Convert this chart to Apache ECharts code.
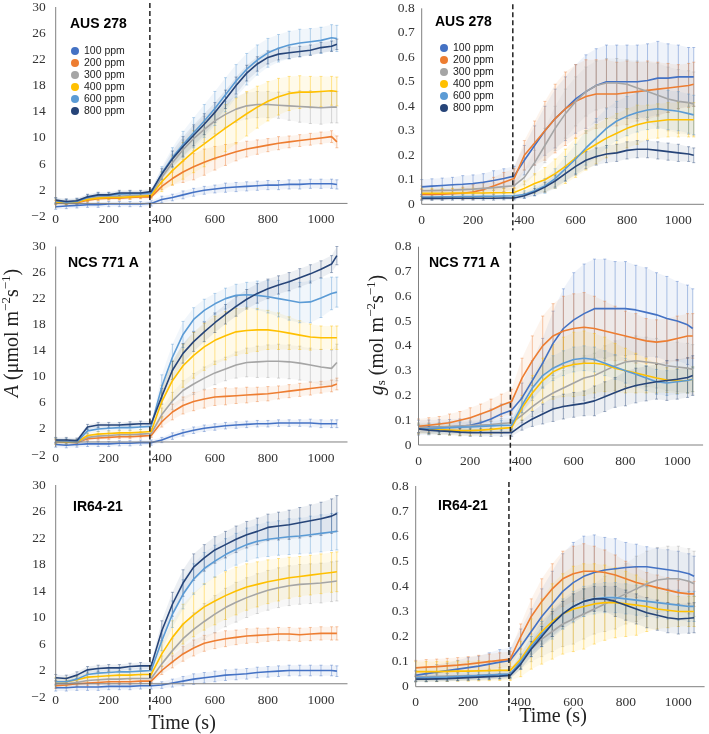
<!DOCTYPE html>
<html><head><meta charset="utf-8">
<script src="https://cdn.jsdelivr.net/npm/echarts/dist/echarts.min.js"></script>
<style>html,body{margin:0;padding:0;background:#fff}#c{width:709px;height:734px}</style>
</head><body><div id="c"></div><script>
// ---------- data ----------
const times = [0,40,80,120,160,200,240,280,320,360,400,440,480,520,560,600,640,680,720,760,800,840,880,920,960,1000,1040,1060];
const ppmNames = ['100 ppm','200 ppm','300 ppm','400 ppm','600 ppm','800 ppm'];
const panelTitles = ['AUS 278','NCS 771 A','IR64-21'];
const xTicks = [0,200,400,600,800,1000];
const xMax = 1100;
const yTicksA = [-2,2,6,10,14,18,22,26,30];
const yTicksG = [0,0.1,0.2,0.3,0.4,0.5,0.6,0.7,0.8];
const lightStep = 355;

// AUS 278 - A
const ausA100 = [-0.5,-0.4,-0.3,-0.2,-0.2,-0.1,-0.1,-0.1,-0.1,0.0, 0.6,0.9,1.3,1.7,2.0,2.2,2.4,2.5,2.6,2.7,2.8,2.8,2.9,2.9,3.0,3.0,3.0,2.9];
const ausA200 = [0.1,0.0,0.1,0.5,0.7,0.8,0.8,0.9,1.0,1.0, 2.6,3.8,4.8,5.6,6.3,6.9,7.4,7.9,8.3,8.6,8.9,9.2,9.4,9.6,9.8,10.0,10.2,9.4];
const ausA300 = [0.3,0.1,0.2,0.7,1.0,1.0,1.1,1.2,1.2,1.3, 4.0,6.2,8.2,9.9,11.3,12.6,13.6,14.4,14.9,15.1,15.1,15.0,14.9,14.8,14.7,14.6,14.7,14.7];
const ausA400 = [0.2,0.0,0.2,0.6,0.8,0.9,0.9,1.0,1.1,1.2, 3.3,5.0,6.5,7.9,9.1,10.3,11.5,12.6,13.7,14.7,15.6,16.3,16.8,17.0,17.0,17.1,17.2,17.1];
const ausA600 = [0.4,0.2,0.3,0.9,1.2,1.2,1.4,1.5,1.5,1.6, 4.6,7.0,9.0,10.8,12.6,14.5,16.6,18.7,20.5,21.9,23.0,23.7,24.2,24.5,24.7,24.9,25.3,25.2];
const ausA800 = [0.5,0.3,0.4,1.0,1.3,1.3,1.6,1.6,1.6,1.8, 4.5,6.8,8.7,10.4,12.1,13.9,15.9,18.0,19.9,21.3,22.3,22.8,23.0,23.2,23.4,23.8,24.0,24.3];
const ausA100e = [0.4,0.4,0.4,0.4,0.4,0.4,0.4,0.4,0.4,0.4, 0.5,0.5,0.6,0.6,0.6,0.6,0.7,0.7,0.7,0.7,0.7,0.7,0.7,0.7,0.7,0.7,0.7,0.7];
const ausA200e = [0.3,0.3,0.3,0.3,0.3,0.3,0.3,0.3,0.3,0.3, 0.5,1.0,1.6,2.0,2.0,1.8,1.6,1.4,1.2,1.1,1.0,1.0,0.9,0.9,0.9,0.9,0.9,0.9];
const ausA300e = [0.4,0.4,0.4,0.4,0.4,0.4,0.4,0.4,0.4,0.4, 0.8,1.2,1.5,1.8,2.0,2.0,2.0,2.0,2.0,2.0,2.0,2.0,2.2,2.4,2.5,2.5,2.4,2.4];
const ausA400e = [0.3,0.3,0.3,0.3,0.3,0.3,0.3,0.3,0.3,0.3, 1.5,2.2,2.8,3.2,3.5,3.6,3.6,3.5,3.4,3.2,3.0,2.8,2.6,2.5,2.4,2.3,2.2,2.2];
const ausA600e = [0.4,0.4,0.4,0.4,0.4,0.4,0.4,0.4,0.4,0.4, 1.0,1.5,2.0,2.3,2.5,2.6,2.6,2.5,2.4,2.3,2.2,2.1,2.1,2.1,2.0,2.0,2.0,2.0];
const ausA800e = [0.4,0.4,0.4,0.4,0.4,0.4,0.4,0.4,0.4,0.4, 0.8,1.2,1.5,1.6,1.6,1.5,1.4,1.3,1.2,1.1,1.0,0.9,0.9,0.8,0.8,0.8,0.8,0.8];

// AUS 278 - gs
const ausG100 = [0.071,0.074,0.077,0.080,0.082,0.085,0.090,0.097,0.105,0.115, 0.18,0.24,0.30,0.35,0.39,0.43,0.46,0.485,0.50,0.50,0.50,0.50,0.505,0.515,0.515,0.52,0.52,0.52];
const ausG200 = [0.040,0.040,0.041,0.043,0.045,0.050,0.060,0.075,0.090,0.105, 0.20,0.25,0.30,0.35,0.39,0.42,0.44,0.45,0.45,0.45,0.455,0.46,0.465,0.47,0.475,0.48,0.485,0.49];
const ausG300 = [0.055,0.056,0.057,0.058,0.060,0.062,0.065,0.068,0.072,0.076, 0.11,0.17,0.24,0.31,0.37,0.42,0.46,0.485,0.495,0.495,0.49,0.475,0.46,0.445,0.43,0.42,0.415,0.41];
const ausG400 = [0.045,0.045,0.045,0.046,0.046,0.046,0.046,0.047,0.047,0.048, 0.065,0.085,0.10,0.125,0.155,0.19,0.22,0.245,0.27,0.29,0.31,0.325,0.335,0.34,0.345,0.345,0.345,0.345];
const ausG600 = [0.030,0.030,0.031,0.031,0.032,0.032,0.033,0.033,0.034,0.035, 0.04,0.055,0.075,0.105,0.145,0.185,0.23,0.27,0.31,0.34,0.36,0.375,0.385,0.39,0.385,0.38,0.37,0.365];
const ausG800 = [0.024,0.024,0.024,0.025,0.025,0.025,0.025,0.025,0.026,0.026, 0.035,0.05,0.07,0.095,0.125,0.155,0.18,0.195,0.205,0.21,0.22,0.225,0.225,0.22,0.215,0.21,0.205,0.20];
const ausG100e = [0.03,0.03,0.03,0.03,0.035,0.035,0.035,0.04,0.04,0.04, 0.06,0.08,0.10,0.12,0.13,0.14,0.15,0.15,0.15,0.15,0.15,0.15,0.15,0.15,0.14,0.13,0.12,0.12];
const ausG200e = [0.02,0.02,0.02,0.02,0.025,0.03,0.03,0.035,0.04,0.04, 0.06,0.09,0.12,0.14,0.15,0.15,0.15,0.14,0.14,0.13,0.13,0.12,0.12,0.11,0.10,0.09,0.09,0.09];
const ausG300e = [0.02,0.02,0.02,0.02,0.02,0.02,0.02,0.02,0.02,0.02, 0.03,0.05,0.07,0.09,0.10,0.10,0.10,0.10,0.10,0.10,0.10,0.11,0.12,0.13,0.13,0.13,0.13,0.13];
const ausG400e = [0.02,0.02,0.02,0.02,0.02,0.02,0.02,0.02,0.02,0.02, 0.03,0.04,0.05,0.06,0.07,0.08,0.08,0.08,0.08,0.08,0.08,0.08,0.07,0.07,0.07,0.07,0.07,0.07];
const ausG600e = [0.01,0.01,0.01,0.01,0.01,0.01,0.01,0.01,0.01,0.01, 0.015,0.02,0.03,0.04,0.05,0.06,0.07,0.08,0.08,0.08,0.08,0.08,0.08,0.08,0.08,0.08,0.08,0.08];
const ausG800e = [0.008,0.008,0.008,0.008,0.008,0.008,0.008,0.008,0.008,0.008, 0.01,0.015,0.02,0.025,0.03,0.035,0.035,0.035,0.035,0.035,0.035,0.035,0.035,0.035,0.035,0.035,0.03,0.03];

// NCS 771 A - A
const ncsA100 = [-0.4,-0.5,-0.4,-0.3,-0.3,-0.3,-0.2,-0.2,-0.1,-0.1, 0.3,0.9,1.4,1.8,2.1,2.3,2.5,2.6,2.7,2.8,2.8,2.9,2.9,2.9,2.9,2.8,2.8,2.8];
const ncsA200 = [0.0,0.0,-0.1,0.5,0.6,0.7,0.8,0.8,0.9,1.0, 3.1,4.6,5.6,6.2,6.6,6.9,7.0,7.1,7.2,7.3,7.4,7.6,7.8,8.0,8.2,8.4,8.6,8.9];
const ncsA300 = [0.0,0.0,-0.1,0.7,0.9,1.0,1.1,1.1,1.2,1.3, 4.2,6.3,7.9,8.9,9.8,10.6,11.2,11.8,12.2,12.3,12.4,12.4,12.3,12.1,11.8,11.5,11.3,12.2];
const ncsA400 = [0.1,0.0,0.0,1.0,1.2,1.3,1.4,1.4,1.5,1.6, 6.2,9.4,11.7,13.3,14.6,15.6,16.3,16.9,17.1,17.2,17.2,17.0,16.7,16.4,16.1,16.0,16.0,16.0];
const ncsA600 = [0.2,0.1,0.0,1.7,2.0,2.1,2.2,2.2,2.3,2.4, 8.5,13.0,16.5,18.8,20.2,21.2,22.0,22.5,22.6,22.5,22.3,22.0,21.7,21.4,21.5,22.1,22.8,23.0];
const ncsA800 = [0.3,0.3,0.2,2.3,2.6,2.6,2.6,2.7,2.8,2.8, 7.0,11.0,13.6,15.4,16.9,18.3,19.6,20.8,21.9,22.8,23.5,24.1,24.6,25.2,25.8,26.5,27.3,28.6];
const ncsA100e = [0.4,0.4,0.4,0.4,0.4,0.4,0.4,0.4,0.4,0.4, 0.4,0.5,0.5,0.5,0.5,0.5,0.5,0.5,0.5,0.5,0.5,0.5,0.5,0.5,0.6,0.6,0.6,0.6];
const ncsA200e = [0.3,0.3,0.3,0.3,0.3,0.3,0.3,0.3,0.3,0.3, 0.8,1.2,1.3,1.4,1.4,1.3,1.3,1.2,1.2,1.1,1.1,1.0,1.0,1.0,1.0,0.9,0.9,0.9];
const ncsA300e = [0.4,0.4,0.4,0.4,0.4,0.4,0.4,0.4,0.4,0.4, 1.0,1.3,1.5,1.6,1.7,1.8,1.8,2.0,2.2,2.4,2.5,2.6,2.6,2.6,2.6,2.7,2.8,2.8];
const ncsA400e = [0.4,0.4,0.4,0.4,0.4,0.4,0.4,0.4,0.4,0.4, 2.5,3.0,3.3,3.5,3.6,3.7,3.7,3.6,3.5,3.3,3.0,2.8,2.5,2.2,2.0,1.8,1.8,1.8];
const ncsA600e = [0.4,0.4,0.4,0.4,0.4,0.4,0.4,0.4,0.4,0.4, 1.8,2.0,2.0,1.8,1.7,1.6,1.6,1.7,1.9,2.2,2.5,2.8,3.0,3.1,3.2,3.0,2.5,2.3];
const ncsA800e = [0.4,0.4,0.4,0.4,0.4,0.4,0.4,0.4,0.4,0.4, 1.2,1.4,1.5,1.5,1.5,1.5,1.5,1.5,1.5,1.5,1.5,1.4,1.4,1.4,1.4,1.3,1.3,1.4];

// NCS 771 A - gs
const ncsG100 = [0.070,0.071,0.072,0.073,0.075,0.080,0.090,0.105,0.125,0.140, 0.19,0.26,0.33,0.41,0.47,0.505,0.53,0.55,0.55,0.55,0.55,0.545,0.535,0.525,0.51,0.50,0.485,0.47];
const ncsG200 = [0.075,0.080,0.085,0.090,0.100,0.110,0.125,0.140,0.160,0.175, 0.27,0.34,0.40,0.44,0.46,0.47,0.475,0.47,0.46,0.45,0.44,0.43,0.42,0.415,0.42,0.43,0.44,0.44];
const ncsG300 = [0.070,0.070,0.072,0.074,0.076,0.078,0.080,0.083,0.087,0.090, 0.12,0.155,0.185,0.21,0.23,0.25,0.27,0.28,0.30,0.32,0.335,0.34,0.335,0.33,0.32,0.315,0.31,0.305];
const ncsG400 = [0.065,0.064,0.062,0.060,0.058,0.058,0.060,0.063,0.067,0.070, 0.15,0.21,0.26,0.295,0.315,0.325,0.33,0.33,0.325,0.31,0.30,0.29,0.28,0.27,0.262,0.258,0.26,0.265];
const ncsG600 = [0.065,0.066,0.068,0.070,0.072,0.073,0.075,0.077,0.079,0.080, 0.16,0.23,0.28,0.31,0.33,0.345,0.35,0.345,0.33,0.315,0.30,0.285,0.27,0.255,0.25,0.255,0.26,0.265];
const ncsG800 = [0.065,0.060,0.057,0.055,0.052,0.050,0.050,0.050,0.050,0.050, 0.08,0.105,0.125,0.145,0.155,0.162,0.168,0.178,0.195,0.212,0.228,0.24,0.248,0.255,0.26,0.265,0.272,0.28];
const ncsG100e = [0.03,0.03,0.03,0.03,0.03,0.03,0.035,0.04,0.04,0.04, 0.06,0.08,0.10,0.13,0.16,0.19,0.20,0.20,0.20,0.19,0.19,0.18,0.18,0.17,0.17,0.16,0.16,0.16];
const ncsG200e = [0.03,0.03,0.03,0.035,0.035,0.04,0.04,0.045,0.045,0.05, 0.08,0.10,0.12,0.13,0.14,0.14,0.14,0.13,0.12,0.11,0.10,0.10,0.09,0.09,0.09,0.09,0.09,0.09];
const ncsG300e = [0.02,0.02,0.02,0.02,0.02,0.02,0.02,0.02,0.02,0.02, 0.03,0.04,0.05,0.06,0.07,0.08,0.09,0.09,0.10,0.10,0.10,0.10,0.10,0.10,0.10,0.10,0.10,0.10];
const ncsG400e = [0.02,0.02,0.02,0.02,0.02,0.02,0.02,0.02,0.02,0.02, 0.05,0.07,0.09,0.11,0.12,0.13,0.13,0.12,0.11,0.10,0.09,0.08,0.07,0.06,0.05,0.05,0.05,0.05];
const ncsG600e = [0.02,0.02,0.02,0.02,0.02,0.02,0.02,0.02,0.02,0.02, 0.03,0.04,0.05,0.05,0.05,0.05,0.05,0.05,0.05,0.05,0.05,0.05,0.05,0.05,0.05,0.05,0.05,0.05];
const ncsG800e = [0.015,0.015,0.015,0.015,0.015,0.015,0.015,0.015,0.015,0.015, 0.02,0.03,0.04,0.05,0.05,0.05,0.05,0.06,0.06,0.06,0.07,0.07,0.07,0.07,0.08,0.08,0.08,0.08];

// IR64-21 - A
const irA100 = [-0.6,-0.6,-0.5,-0.5,-0.5,-0.4,-0.4,-0.4,-0.3,-0.3, -0.2,0.1,0.4,0.7,0.9,1.1,1.3,1.4,1.5,1.7,1.8,1.9,2.0,2.0,2.0,2.0,2.0,1.9];
const irA200 = [-0.3,-0.2,0.0,0.1,0.2,0.3,0.3,0.3,0.4,0.4, 2.0,3.3,4.5,5.4,6.1,6.5,6.8,7.0,7.2,7.3,7.4,7.5,7.5,7.4,7.5,7.6,7.6,7.6];
const irA300 = [0.0,0.0,0.2,0.5,0.6,0.7,0.7,0.8,0.8,0.8, 3.0,5.0,6.8,8.2,9.4,10.5,11.5,12.3,13.0,13.6,14.1,14.5,14.8,15.0,15.1,15.2,15.4,15.5];
const irA400 = [0.3,0.3,0.6,1.0,1.1,1.2,1.3,1.3,1.4,1.4, 4.5,7.0,9.0,10.4,11.6,12.5,13.3,14.0,14.6,15.0,15.4,15.7,16.0,16.2,16.4,16.6,16.8,16.9];
const irA600 = [0.3,0.3,0.7,1.4,1.6,1.7,1.8,1.8,1.9,2.0, 6.5,10.5,13.5,15.8,17.4,18.5,19.5,20.3,21.0,21.5,21.8,22.0,22.2,22.3,22.5,22.7,22.9,23.0];
const irA800 = [0.9,0.8,1.3,2.1,2.3,2.4,2.4,2.6,2.7,2.7, 8.0,12.0,15.2,17.6,19.0,20.2,21.0,21.8,22.5,23.0,23.6,23.8,24.0,24.3,24.6,24.9,25.3,25.7];
const irA100e = [0.5,0.5,0.5,0.5,0.5,0.5,0.5,0.5,0.5,0.5, 0.5,0.6,0.7,0.8,0.8,0.8,0.8,0.8,0.8,0.8,0.8,0.8,0.8,0.8,0.8,0.8,0.8,0.8];
const irA200e = [0.4,0.4,0.4,0.4,0.4,0.4,0.4,0.4,0.4,0.4, 0.6,0.9,1.1,1.2,1.2,1.2,1.2,1.1,1.1,1.1,1.0,1.0,1.0,1.0,1.0,1.0,1.0,1.0];
const irA300e = [0.5,0.5,0.5,0.5,0.5,0.5,0.5,0.5,0.5,0.5, 1.2,1.8,2.2,2.5,2.7,2.8,2.9,3.0,3.0,3.0,3.0,3.0,3.0,3.0,3.0,3.0,3.0,3.0];
const irA400e = [0.6,0.6,0.6,0.6,0.6,0.6,0.6,0.6,0.6,0.6, 1.8,2.5,3.0,3.3,3.5,3.6,3.6,3.6,3.5,3.4,3.3,3.2,3.1,3.0,3.0,3.0,3.0,3.0];
const irA600e = [0.5,0.5,0.5,0.5,0.5,0.5,0.5,0.5,0.5,0.5, 1.5,2.0,2.2,2.3,2.4,2.4,2.4,2.4,2.5,2.5,2.6,2.6,2.7,2.7,2.8,2.8,2.8,2.8];
const irA800e = [0.5,0.5,0.5,0.5,0.5,0.5,0.5,0.5,0.5,0.5, 1.5,1.8,2.0,2.0,2.0,2.0,2.0,2.0,2.0,2.0,2.0,2.1,2.2,2.3,2.4,2.5,2.6,2.7];

// IR64-21 - gs
const irG100 = [0.045,0.052,0.058,0.064,0.070,0.076,0.082,0.090,0.098,0.105, 0.16,0.22,0.28,0.33,0.38,0.415,0.44,0.455,0.465,0.47,0.475,0.478,0.478,0.472,0.466,0.46,0.45,0.44];
const irG200 = [0.075,0.078,0.080,0.083,0.086,0.090,0.095,0.100,0.105,0.110, 0.20,0.28,0.34,0.39,0.43,0.45,0.46,0.46,0.455,0.445,0.43,0.415,0.405,0.395,0.385,0.375,0.37,0.37];
const irG300 = [0.040,0.040,0.041,0.042,0.043,0.044,0.045,0.047,0.049,0.050, 0.10,0.15,0.19,0.22,0.25,0.27,0.29,0.31,0.33,0.35,0.37,0.39,0.41,0.425,0.43,0.43,0.42,0.41];
const irG400 = [0.060,0.060,0.060,0.061,0.062,0.062,0.063,0.064,0.065,0.065, 0.11,0.17,0.22,0.26,0.29,0.31,0.32,0.33,0.335,0.335,0.33,0.325,0.32,0.31,0.305,0.30,0.30,0.30];
const irG600 = [0.035,0.036,0.037,0.038,0.040,0.042,0.044,0.046,0.048,0.050, 0.10,0.16,0.21,0.25,0.29,0.32,0.34,0.35,0.355,0.355,0.35,0.345,0.34,0.335,0.33,0.325,0.32,0.32];
const irG800 = [0.030,0.030,0.031,0.032,0.034,0.036,0.038,0.040,0.042,0.045, 0.09,0.15,0.20,0.25,0.29,0.32,0.34,0.35,0.35,0.34,0.325,0.31,0.295,0.285,0.275,0.27,0.273,0.275];
const irG100e = [0.02,0.025,0.03,0.03,0.035,0.04,0.04,0.045,0.05,0.05, 0.07,0.09,0.11,0.13,0.15,0.16,0.16,0.15,0.13,0.12,0.10,0.09,0.08,0.08,0.08,0.08,0.08,0.08];
const irG200e = [0.03,0.03,0.03,0.03,0.03,0.03,0.03,0.03,0.03,0.03, 0.05,0.07,0.09,0.10,0.11,0.11,0.11,0.10,0.09,0.08,0.07,0.06,0.05,0.05,0.05,0.05,0.05,0.05];
const irG300e = [0.02,0.02,0.02,0.02,0.02,0.02,0.02,0.02,0.02,0.02, 0.03,0.05,0.07,0.08,0.09,0.10,0.10,0.10,0.11,0.12,0.12,0.13,0.13,0.13,0.13,0.13,0.13,0.13];
const irG400e = [0.04,0.04,0.04,0.04,0.04,0.04,0.04,0.04,0.04,0.04, 0.07,0.10,0.13,0.15,0.16,0.17,0.17,0.16,0.15,0.14,0.13,0.12,0.10,0.08,0.07,0.06,0.06,0.06];
const irG600e = [0.015,0.015,0.015,0.015,0.015,0.015,0.015,0.015,0.015,0.015, 0.03,0.04,0.05,0.06,0.06,0.06,0.06,0.06,0.06,0.06,0.06,0.06,0.06,0.06,0.06,0.06,0.06,0.06];
const irG800e = [0.01,0.01,0.01,0.01,0.01,0.01,0.01,0.01,0.01,0.01, 0.02,0.03,0.04,0.05,0.05,0.05,0.05,0.05,0.05,0.06,0.06,0.06,0.06,0.06,0.06,0.06,0.06,0.06];

// ---------- styles / layout ----------
const colors = ['#4472C4','#ED7D31','#A5A5A5','#FFC000','#5B9BD5','#264478'];
const grids = [
  {left:55.7, top:6.5, width:291.8, height:210},
  {left:421.7, top:8.3, width:282.3, height:196},
  {left:55.7, top:246.5, width:291.8, height:208.5},
  {left:418.5, top:246.7, width:284.6, height:198.3},
  {left:55.7, top:485, width:291.8, height:212},
  {left:415.7, top:486, width:288.9, height:200.7}
];
const panels = [
  {kind:'A', vals:[ausA100,ausA200,ausA300,ausA400,ausA600,ausA800], errs:[ausA100e,ausA200e,ausA300e,ausA400e,ausA600e,ausA800e]},
  {kind:'G', vals:[ausG100,ausG200,ausG300,ausG400,ausG600,ausG800], errs:[ausG100e,ausG200e,ausG300e,ausG400e,ausG600e,ausG800e]},
  {kind:'A', vals:[ncsA100,ncsA200,ncsA300,ncsA400,ncsA600,ncsA800], errs:[ncsA100e,ncsA200e,ncsA300e,ncsA400e,ncsA600e,ncsA800e]},
  {kind:'G', vals:[ncsG100,ncsG200,ncsG300,ncsG400,ncsG600,ncsG800], errs:[ncsG100e,ncsG200e,ncsG300e,ncsG400e,ncsG600e,ncsG800e]},
  {kind:'A', vals:[irA100,irA200,irA300,irA400,irA600,irA800], errs:[irA100e,irA200e,irA300e,irA400e,irA600e,irA800e]},
  {kind:'G', vals:[irG100,irG200,irG300,irG400,irG600,irG800], errs:[irG100e,irG200e,irG300e,irG400e,irG600e,irG800e]}
];

function hexA(hex, a){
  const n = parseInt(hex.slice(1),16);
  return 'rgba('+((n>>16)&255)+','+((n>>8)&255)+','+(n&255)+','+a+')';
}

const xAxes = [], yAxes = [], errSeries = [], lineSeries = [], frameSeries = [];
panels.forEach((p, pi) => {
  const isA = p.kind === 'A';
  const ticks = isA ? yTicksA : yTicksG;
  const yMin = ticks[0], yMax = ticks[ticks.length-1];
  xAxes.push({
    type:'value', gridIndex:pi, min:xTicks[0], max:xMax, interval:xTicks[1]-xTicks[0],
    axisLine:{show:false}, axisTick:{show:false}, splitLine:{show:false},
    axisLabel:{show:true, showMaxLabel:false, margin: isA ? -4 : 9,
      fontFamily:'Liberation Serif', fontSize:13.5, color:'#333',
      formatter: v => (v > xTicks[xTicks.length-1] ? '' : String(v))}
  });
  yAxes.push({
    type:'value', gridIndex:pi, min:yMin, max:yMax, interval: +(ticks[1]-ticks[0]).toFixed(3),
    axisLine:{show:false}, axisTick:{show:false}, splitLine:{show:false},
    axisLabel:{margin: isA ? 10 : 7, fontFamily:'Liberation Serif', fontSize:13.5, color:'#333',
      formatter: v => isA ? String(Math.round(v)).replace('-', '\u2212') : (Math.abs(v) < 1e-9 ? '0' : v.toFixed(1))}
  });
  p.vals.forEach((arr, si) => {
    const e = p.errs[si];
    const c = colors[si];
    const d = times.map((t, i) => [t, arr[i], e[i],
      i < times.length-1 ? times[i+1] : NaN,
      i < times.length-1 ? arr[i+1] : NaN,
      i < times.length-1 ? e[i+1] : NaN]);
    errSeries.push({
      type:'custom', xAxisIndex:pi, yAxisIndex:pi, silent:true, z:1,
      encode:{x:0, y:1}, data:d,
      renderItem: (params, api) => {
        const t = api.value(0), v = api.value(1), er = api.value(2);
        const hi = api.coord([t, v+er]), lo = api.coord([t, v-er]);
        const ch = [
          {type:'line', shape:{x1:hi[0], y1:hi[1], x2:lo[0], y2:lo[1]}, style:{stroke:hexA(c,0.42), lineWidth:1}},
          {type:'line', shape:{x1:hi[0]-1.5, y1:hi[1], x2:hi[0]+1.5, y2:hi[1]}, style:{stroke:hexA(c,0.42), lineWidth:1}},
          {type:'line', shape:{x1:lo[0]-1.5, y1:lo[1], x2:lo[0]+1.5, y2:lo[1]}, style:{stroke:hexA(c,0.42), lineWidth:1}}
        ];
        const tn = api.value(3);
        if (!isNaN(tn)) {
          const vn = api.value(4), en = api.value(5);
          const hn = api.coord([tn, vn+en]), ln = api.coord([tn, vn-en]);
          ch.unshift({type:'polygon', shape:{points:[hi, hn, ln, lo]}, style:{fill:hexA(c,0.085)}});
        }
        return {type:'group', children:ch};
      }
    });
    lineSeries.push({
      type:'line', name:ppmNames[si], xAxisIndex:pi, yAxisIndex:pi, z:3,
      data: times.map((t, i) => [t, arr[i]]),
      showSymbol:false, symbol:'circle', silent:true,
      itemStyle:{color:c}, lineStyle:{color:c, width:1.6}
    });
  });
  frameSeries.push({
    type:'custom', xAxisIndex:pi, yAxisIndex:pi, silent:true, z:5, clip:false,
    encode:{x:0, y:1}, data:[[0, 0]],
    renderItem: (params, api) => {
      const top = api.coord([0, yMax]);
      const zero = api.coord([0, 0]);
      const right = api.coord([xMax, 0]);
      const dTop = api.coord([lightStep, yMax]);
      const dBot = api.coord([lightStep, yMin]);
      return {type:'group', children:[
        {type:'line', shape:{x1:top[0], y1:top[1], x2:zero[0], y2:zero[1] + (isA ? 5 : 0)}, style:{stroke:'#808080', lineWidth:1}},
        {type:'line', shape:{x1:zero[0], y1:zero[1], x2:right[0], y2:right[1]}, style:{stroke:'#808080', lineWidth:1}},
        {type:'line', shape:{x1:dTop[0], y1:dTop[1]-4, x2:dBot[0], y2:dBot[1] + (isA ? 16 : 26)}, style:{stroke:'#222', lineWidth:1.5, lineDash:[5,3]}}
      ]};
    }
  });
});

const legendCommon = {
  data: ppmNames, orient:'vertical', icon:'circle', itemWidth:8, itemHeight:8, itemGap:0, itemTextGap:5,
  selectedMode:false, textStyle:{fontFamily:'Liberation Sans', fontSize:10.5, color:'#222', lineHeight:12}
};

const supStyle = {fontFamily:'Liberation Serif', fontSize:13, lineHeight:13, padding:[0,0,13,0], fill:'#222', color:'#222'};
const normStyle = {fontFamily:'Liberation Serif', fontSize:20, fill:'#222', color:'#222'};
const titleFont = 'bold 14px "Liberation Sans"';
const titlePos = [[70,24],[435,22],[68,263],[429,263],[73,507],[438,506]];
const graphics = [];
titlePos.forEach((pos, i) => {
  graphics.push({type:'text', x:pos[0], y:pos[1], silent:true, z:10,
    style:{text: panelTitles[Math.floor(i/2)], font:titleFont, fill:'#000', align:'left', verticalAlign:'middle', textAlign:'left', textVerticalAlign:'middle'}});
});
graphics.push({type:'text', x:13, y:333, rotation:Math.PI/2, silent:true, z:10,
  style:{text:'{i|A}{n| (μmol m}{s|−2}{n|s}{s|−1}{n|)}', align:'center', verticalAlign:'middle', textAlign:'center', textVerticalAlign:'middle',
    rich:{i:Object.assign({}, normStyle, {fontStyle:'italic'}), n:normStyle, s:supStyle}}});
graphics.push({type:'text', x:378, y:335, rotation:Math.PI/2, silent:true, z:10,
  style:{text:'{i|g}{b|s}{n| (mol m}{s|−2}{n|s}{s|−1}{n|)}', align:'center', verticalAlign:'middle', textAlign:'center', textVerticalAlign:'middle',
    rich:{i:Object.assign({}, normStyle, {fontStyle:'italic'}), n:normStyle, s:supStyle,
      b:{fontFamily:'Liberation Serif', fontSize:13, lineHeight:13, padding:[8,0,0,0], fill:'#222', color:'#222'}}}});
graphics.push({type:'text', x:182, y:724, silent:true, z:10,
  style:{text:'Time (s)', font:'20px "Liberation Serif"', fill:'#222', align:'center', verticalAlign:'middle', textAlign:'center', textVerticalAlign:'middle'}});
graphics.push({type:'text', x:553, y:717, silent:true, z:10,
  style:{text:'Time (s)', font:'20px "Liberation Serif"', fill:'#222', align:'center', verticalAlign:'middle', textAlign:'center', textVerticalAlign:'middle'}});

const chart = echarts.init(document.getElementById('c'), null, {renderer:'canvas'});
chart.setOption({
  backgroundColor:'#ffffff',
  animation:false,
  grid: grids.map(g => Object.assign({containLabel:false}, g)),
  xAxis: xAxes,
  yAxis: yAxes,
  legend: [
    Object.assign({left:66, top:40}, legendCommon),
    Object.assign({left:435, top:37}, legendCommon)
  ],
  graphic: graphics,
  series: [].concat(errSeries, lineSeries, frameSeries)
});
</script></body></html>
